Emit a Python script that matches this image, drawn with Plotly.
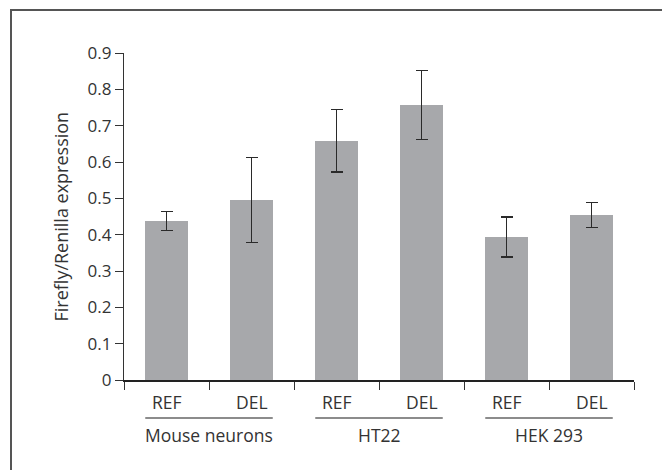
import plotly.graph_objects as go

# ---- data ----
groups = ["Mouse neurons", "HT22", "HEK 293"]
conditions = ["REF", "DEL"]
values = [0.438, 0.495, 0.658, 0.757, 0.394, 0.454]
errors = [0.026, 0.117, 0.086, 0.095, 0.055, 0.034]
y_ticks = [0, 0.1, 0.2, 0.3, 0.4, 0.5, 0.6, 0.7, 0.8, 0.9]
y_title = "Firefly/Renilla expression"

FONT = "Open Sans"
W, H = 662, 470
ML, MR, MT, MB = 124, 28, 53, 90
PW, PH = W - ML - MR, H - MT - MB

labels = [c for g in groups for c in conditions]
xs = list(range(len(labels)))
BARW = 0.5

fig = go.Figure()
fig.add_trace(go.Bar(
    x=xs, y=values, width=BARW,
    marker=dict(color="#a7a8ab", line=dict(width=0)),
    error_y=dict(type="data", array=errors, visible=True,
                 color="#2a2a2a", thickness=1.5, width=6),
    showlegend=False,
))

def px2paper_x(px):
    return (px - ML) / PW

def px2paper_y(py):
    return (H - MB - py) / PH

shapes = []
annotations = []

# category labels
for i, lab in enumerate(labels):
    annotations.append(dict(x=i, y=0, xref="x", yref="paper", text=lab,
                            showarrow=False, xanchor="center", yanchor="middle",
                            yshift=-22, font=dict(family=FONT, size=17.5, color="#333")))

# group lines and labels
for gi, g in enumerate(groups):
    i0 = gi * len(conditions)
    i1 = i0 + len(conditions) - 1
    shapes.append(dict(type="line", xref="x", yref="paper",
                       x0=i0 - BARW / 2, x1=i1 + BARW / 2,
                       y0=px2paper_y(418), y1=px2paper_y(418),
                       line=dict(color="#8c8c8c", width=2)))
    annotations.append(dict(x=(i0 + i1) / 2, y=0, xref="x", yref="paper", text=g,
                            showarrow=False, xanchor="center", yanchor="middle",
                            yshift=-55, font=dict(family=FONT, size=17.5, color="#333")))

# y axis title
annotations.append(dict(x=px2paper_x(60), y=0.5, xref="paper", yref="paper",
                        text=y_title, textangle=-90, showarrow=False,
                        xanchor="center", yanchor="middle",
                        font=dict(family=FONT, size=18, color="#333")))

# outer frame (left and top borders)
shapes.append(dict(type="line", xref="paper", yref="paper",
                   x0=px2paper_x(11), x1=px2paper_x(11),
                   y0=px2paper_y(480), y1=px2paper_y(10),
                   line=dict(color="#555555", width=2)))
shapes.append(dict(type="line", xref="paper", yref="paper",
                   x0=px2paper_x(10), x1=px2paper_x(700),
                   y0=px2paper_y(10), y1=px2paper_y(10),
                   line=dict(color="#555555", width=2)))

fig.update_layout(
    width=W, height=H,
    margin=dict(l=ML, r=MR, t=MT, b=MB, pad=0),
    paper_bgcolor="white", plot_bgcolor="white",
    font=dict(family=FONT, size=17, color="#333"),
    shapes=shapes, annotations=annotations,
    bargap=0,
)
fig.update_xaxes(
    range=[-0.5, len(labels) - 0.5],
    showline=True, linecolor="#222", linewidth=1.5,
    tickmode="array", tickvals=[i - 0.5 for i in range(len(labels) + 1)],
    ticktext=[""] * (len(labels) + 1),
    ticks="outside", ticklen=8, tickcolor="#333", tickwidth=1.3,
    showgrid=False, zeroline=False, fixedrange=True,
)
fig.update_yaxes(
    range=[0, 0.9],
    showline=True, linecolor="#333", linewidth=1.3,
    tickmode="array", tickvals=y_ticks, ticktext=[f"{v:g}" for v in y_ticks],
    ticks="outside", ticklen=8, tickcolor="#333", tickwidth=1.3,
    tickfont=dict(family=FONT, size=17, color="#333"),
    showgrid=False, zeroline=False, fixedrange=True,
)

fig.write_html("out.html", config={"displayModeBar": False})
